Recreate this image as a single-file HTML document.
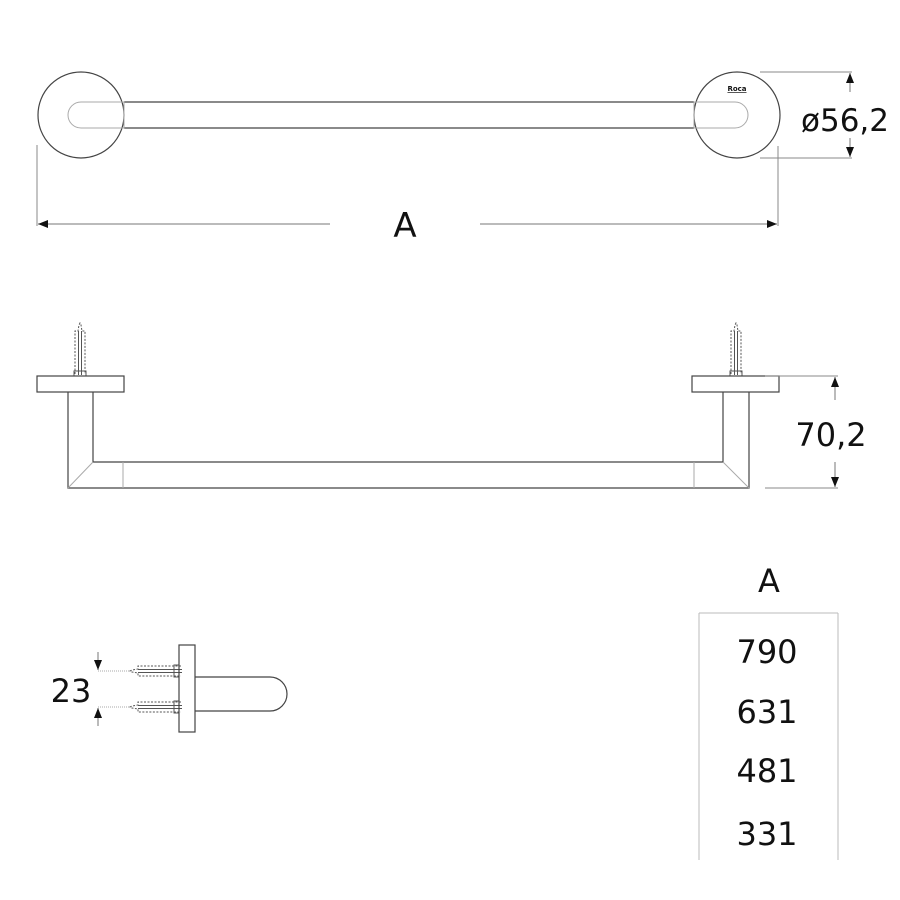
<!DOCTYPE html>
<html><head><style>html,body{margin:0;padding:0;background:#fff}svg{display:block}text{font-family:"DejaVu Sans","Liberation Sans",sans-serif;fill:#111}</style></head><body>
<svg width="900" height="900" viewBox="0 0 900 900" xmlns="http://www.w3.org/2000/svg">
<defs>
<marker id="ar" viewBox="0 0 10 10" refX="10" refY="5" markerWidth="10" markerHeight="10" markerUnits="userSpaceOnUse" orient="auto"><path d="M0,1 L10,5 L0,9 Z" fill="#111"/></marker>
<g id="scr" fill="none" stroke="#555" stroke-width="1">
<path d="M-5,51 L-5,8 L-2,8 L-1,2 L0,0 L1,2 L2,8 L5,8 L5,51" stroke-dasharray="2,1.5"/>
<line x1="-1.5" y1="8" x2="-1.5" y2="52"/><line x1="1.5" y1="8" x2="1.5" y2="52"/>
<rect x="-6" y="48" width="12" height="5"/>
</g>
<g id="scrh" fill="none" stroke="#555" stroke-width="1">
<path d="M51,-5 L8,-5 L8,-2 L2,-1 L0,0 L2,1 L8,2 L8,5 L51,5" stroke-dasharray="2,1.5"/>
<line x1="8" y1="-1.5" x2="52" y2="-1.5"/><line x1="8" y1="1.5" x2="52" y2="1.5"/>
<rect x="44" y="-6" width="5" height="12"/>
</g>
</defs>
<g fill="none" stroke="#444" stroke-width="1.2">
<circle cx="81" cy="115" r="43"/>
<circle cx="737" cy="115" r="43"/>
<line x1="124" y1="102" x2="694" y2="102"/>
<line x1="124" y1="128" x2="694" y2="128"/>
</g>
<g fill="none" stroke="#aaa" stroke-width="1">
<path d="M124,102 L81,102 A13,13 0 0 0 81,128 L124,128 Z"/>
<path d="M694,102 L735,102 A13,13 0 0 1 735,128 L694,128 Z"/>
</g>
<text x="737" y="91" font-size="7" font-weight="bold" text-anchor="middle" text-decoration="underline">Roca</text>
<g stroke="#888" stroke-width="1">
<line x1="37" y1="145" x2="37" y2="226"/>
<line x1="778" y1="146" x2="778" y2="226"/>
<line x1="760" y1="72" x2="852" y2="72"/>
<line x1="760" y1="158" x2="852" y2="158"/>
</g>
<g stroke="#777" stroke-width="1" marker-end="url(#ar)">
<line x1="330" y1="224" x2="38" y2="224"/>
<line x1="480" y1="224" x2="777" y2="224"/>
<line x1="850" y1="92" x2="850" y2="73"/>
<line x1="850" y1="138" x2="850" y2="157"/>
</g>
<text x="405" y="237" font-size="34" text-anchor="middle">A</text>
<text x="845" y="131" font-size="31" text-anchor="middle">ø56,2</text>
<use href="#scr" x="80" y="323"/>
<use href="#scr" x="736" y="323"/>
<g fill="none" stroke="#444" stroke-width="1.2">
<rect x="37" y="376" width="87" height="16"/>
<rect x="692" y="376" width="87" height="16"/>
<path d="M68,392 L68,488 L749,488 L749,392"/>
<path d="M93,392 L93,462 L723,462 L723,392"/>
</g>
<g stroke="#aaa" stroke-width="1">
<line x1="68" y1="488" x2="93" y2="462"/>
<line x1="749" y1="488" x2="723" y2="462"/>
<line x1="123" y1="462" x2="123" y2="488"/>
<line x1="694" y1="462" x2="694" y2="488"/>
</g>
<g stroke="#888" stroke-width="1">
<line x1="765" y1="376" x2="838" y2="376"/>
<line x1="765" y1="488" x2="838" y2="488"/>
</g>
<g stroke="#777" stroke-width="1" marker-end="url(#ar)">
<line x1="835" y1="400" x2="835" y2="377"/>
<line x1="835" y1="462" x2="835" y2="487"/>
</g>
<text x="831" y="446" font-size="32" text-anchor="middle">70,2</text>
<use href="#scrh" x="130" y="671"/>
<use href="#scrh" x="130" y="707"/>
<g fill="none" stroke="#444" stroke-width="1.2">
<rect x="179" y="645" width="16" height="87"/>
<path d="M195,677 L270,677 A17,17 0 0 1 270,711 L195,711"/>
</g>
<g stroke="#aaa" stroke-width="1" stroke-dasharray="1,1">
<line x1="98" y1="671" x2="130" y2="671"/>
<line x1="98" y1="707" x2="130" y2="707"/>
</g>
<g stroke="#777" stroke-width="1" marker-end="url(#ar)">
<line x1="98" y1="652" x2="98" y2="670"/>
<line x1="98" y1="726" x2="98" y2="708"/>
</g>
<text x="71" y="702" font-size="32" text-anchor="middle">23</text>
<text x="769" y="592" font-size="32" text-anchor="middle">A</text>
<g stroke="#bbb" stroke-width="1">
<line x1="699" y1="613" x2="838" y2="613"/>
<line x1="699" y1="613" x2="699" y2="860"/>
<line x1="838" y1="613" x2="838" y2="860"/>
</g>
<g font-size="32" text-anchor="middle">
<text x="767" y="663">790</text>
<text x="767" y="723">631</text>
<text x="767" y="782">481</text>
<text x="767" y="845">331</text>
</g>
</svg>
</body></html>
